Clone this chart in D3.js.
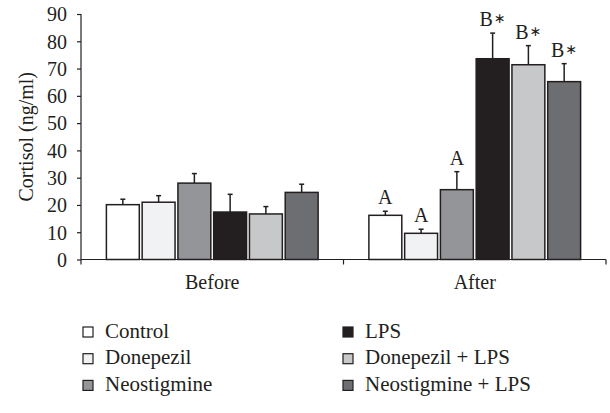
<!DOCTYPE html>
<html lang="en">
<head>
  <meta charset="UTF-8">
  <title>Cortisol</title>
  <script src="https://d3js.org/d3.v7.min.js"></script>
  <style>
    body {margin: 0; background: #fff;}
    svg text {font-family: "Liberation Serif", "Times New Roman", serif; fill: #231f20;}
    .tick-label {font-size: 20px;}
    .cat-label, .sig-label, .y-title {font-size: 20px;}
    .legend-label {font-size: 21px;}
    .star {font-family: "DejaVu Sans", sans-serif; font-size: 14px;}
  </style>
</head>
<body>
  <div id="chart"></div>
  <script>
    const groups = ["Before", "After"];
    const series = ["Control", "Donepezil", "Neostigmine", "LPS", "Donepezil + LPS", "Neostigmine + LPS"];
    const colors = ["#ffffff", "#f1f2f3", "#939598", "#231f20", "#c7c8ca", "#6d6e71"];
    const beforeValues = [20.1, 21.0, 28.0, 17.4, 16.7, 24.6];
    const beforeErrors = [2.0, 2.4, 3.5, 6.5, 2.7, 3.0];
    const afterValues = [16.2, 9.6, 25.6, 73.6, 71.4, 65.2];
    const afterErrors = [1.5, 1.5, 6.6, 9.4, 7.0, 6.6];
    const afterMarks = ["A", "A", "A", "B∗", "B∗", "B∗"];
    const yTicks = [0, 10, 20, 30, 40, 50, 60, 70, 80, 90];

    const width = 610, height = 413;
    const margin = {left: 81, right: 4, top: 14, bottom: 153.5};

    const svg = d3.select("#chart").append("svg")
      .attr("width", width)
      .attr("height", height);

    const x0 = d3.scaleBand()
      .domain(groups)
      .range([margin.left, width - margin.right]);
    const x1 = d3.scaleBand()
      .domain(series)
      .range([0, x0.bandwidth()])
      .paddingInner(0.08)
      .paddingOuter(0.71);
    const y = d3.scaleLinear()
      .domain([0, 90])
      .range([height - margin.bottom, margin.top]);

    const rows = [];
    groups.forEach((g, gi) => {
      const vals = gi === 0 ? beforeValues : afterValues;
      const errs = gi === 0 ? beforeErrors : afterErrors;
      series.forEach((s, i) => {
        rows.push({group: g, name: s, color: colors[i], value: vals[i], err: errs[i], mark: gi === 0 ? "" : afterMarks[i]});
      });
    });

    // error bars (upper only), drawn first so bars sit on top
    const eb = svg.append("g").attr("stroke", "#231f20").attr("stroke-width", 1.5);
    rows.forEach(d => {
      const cx = x0(d.group) + x1(d.name) + x1.bandwidth() / 2;
      eb.append("line")
        .attr("x1", cx).attr("x2", cx)
        .attr("y1", y(d.value)).attr("y2", y(d.value + d.err));
      eb.append("line")
        .attr("x1", cx - 2.5).attr("x2", cx + 2.5)
        .attr("y1", y(d.value + d.err)).attr("y2", y(d.value + d.err));
    });

    svg.append("g").selectAll("rect")
      .data(rows)
      .enter()
      .append("rect")
      .attr("x", d => x0(d.group) + x1(d.name))
      .attr("y", d => y(d.value))
      .attr("width", x1.bandwidth())
      .attr("height", d => y(0) - y(d.value))
      .attr("fill", d => d.color)
      .attr("stroke", "#231f20")
      .attr("stroke-width", 1.5);

    // significance letters; the asterisk sits at mid cap height
    const sig = svg.append("g").selectAll("text")
      .data(rows.filter(d => d.mark))
      .enter()
      .append("text")
      .attr("class", "sig-label")
      .attr("x", d => x0(d.group) + x1(d.name) + x1.bandwidth() / 2)
      .attr("y", d => y(d.value + d.err) - 7)
      .attr("text-anchor", "middle");
    sig.append("tspan").text(d => d.mark.replace("∗", ""));
    sig.filter(d => d.mark.includes("∗"))
      .append("tspan")
      .attr("class", "star")
      .attr("dx", 1)
      .attr("dy", -3)
      .text("∗");

    // y axis
    const yAxis = svg.append("g")
      .attr("transform", `translate(${margin.left},0)`)
      .call(d3.axisLeft(y).tickValues(yTicks).tickSize(4).tickPadding(10).tickSizeOuter(0));
    yAxis.attr("font-family", null).attr("font-size", null);
    yAxis.select(".domain").attr("stroke", "#231f20").attr("stroke-width", 1.2)
      .attr("d", `M0,${margin.top}V${y(0) + 5}`);
    yAxis.selectAll(".tick line").attr("stroke", "#231f20").attr("stroke-width", 1.2);
    yAxis.selectAll(".tick text").attr("class", "tick-label").attr("fill", "#231f20").attr("dy", "0.34em");

    // x axis
    const xAxis = svg.append("g")
      .attr("transform", `translate(0,${y(0)})`);
    xAxis.append("line")
      .attr("x1", margin.left).attr("x2", width - margin.right)
      .attr("stroke", "#231f20").attr("stroke-width", 1.2);
    xAxis.selectAll(".xt")
      .data(groups)
      .enter()
      .append("line")
      .attr("x1", d => x0(d) + x0.bandwidth()).attr("x2", d => x0(d) + x0.bandwidth())
      .attr("y1", 0).attr("y2", 5)
      .attr("stroke", "#231f20").attr("stroke-width", 1.2);
    xAxis.selectAll(".cat-label")
      .data(groups)
      .enter()
      .append("text")
      .attr("class", "cat-label")
      .attr("x", d => x0(d) + x0.bandwidth() / 2)
      .attr("y", 29)
      .attr("text-anchor", "middle")
      .text(d => d);

    svg.append("text")
      .attr("class", "y-title")
      .attr("transform", `translate(33,${(y(0) + y(90)) / 2}) rotate(-90)`)
      .attr("text-anchor", "middle")
      .text("Cortisol (ng/ml)");

    // legend
    const legend = svg.append("g");
    series.forEach((s, i) => {
      const col = Math.floor(i / 3), row = i % 3;
      const lx = 83 + col * 260, ly = 327 + row * 26.7;
      legend.append("rect")
        .attr("x", lx).attr("y", ly)
        .attr("width", 10).attr("height", 10)
        .attr("fill", colors[i])
        .attr("stroke", "#231f20").attr("stroke-width", 1.2);
      legend.append("text")
        .attr("class", "legend-label")
        .attr("x", lx + 22).attr("y", ly + 10.5)
        .text(s);
    });
  </script>
</body>
</html>
